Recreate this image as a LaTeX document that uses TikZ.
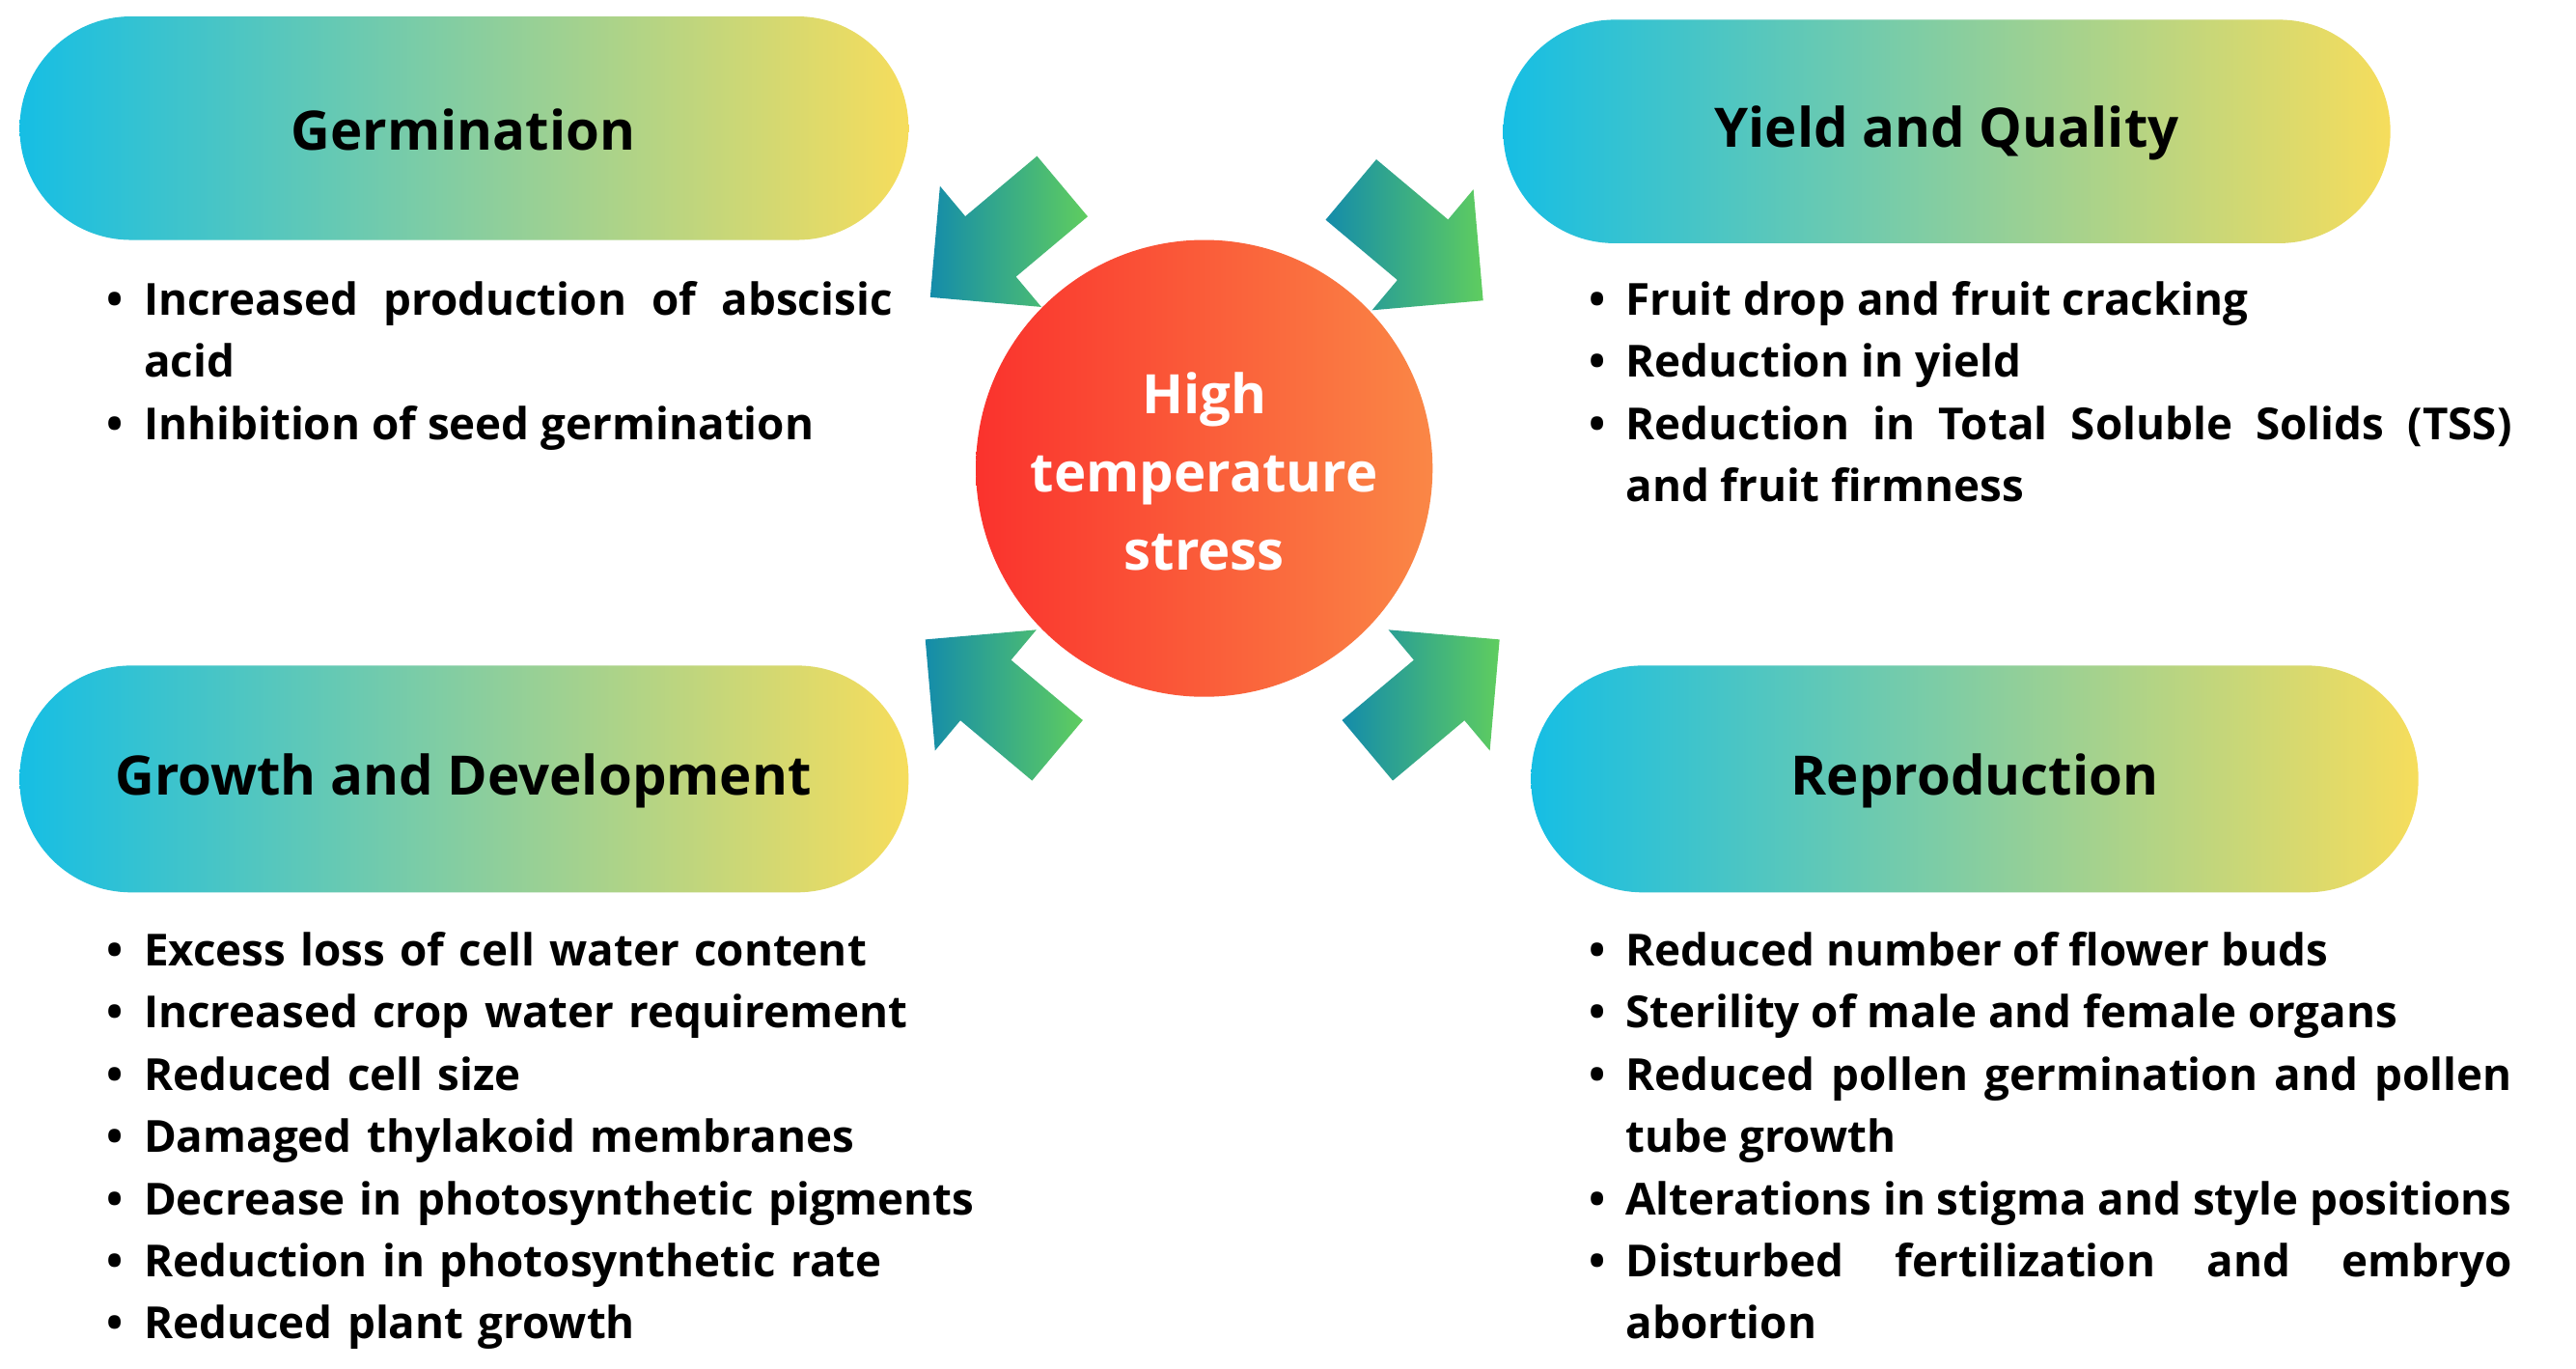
\documentclass[tikz,border=0pt]{standalone}
\usepackage{fontspec}
\setmainfont{Open Sans}
\hyphenpenalty=10000
\exhyphenpenalty=10000
\definecolor{cyanA}{RGB}{22,190,228}
\definecolor{yelA}{RGB}{246,221,92}
\definecolor{redA}{RGB}{250,50,45}
\definecolor{orA}{RGB}{250,135,70}
\definecolor{tealA}{RGB}{20,140,170}
\definecolor{grnA}{RGB}{95,205,95}
\newlength{\hg}\setlength{\hg}{0.76cm}
\newcommand{\bit}[1]{\noindent\hangindent=\hg\hangafter=1\makebox[\hg][l]{•}#1\par}
\tikzset{
 pill/.style={rounded corners=2.3cm, left color=cyanA, right color=yelA, draw=none},
 head/.style={font=\fontsize{32}{40}\selectfont\bfseries, text=black},
 body/.style={anchor=north west, inner sep=0pt, align=justify, font=\fontsize{26}{36.6}\selectfont\bfseries},
 barrow/.style={left color=tealA, right color=grnA, draw=none}
}
\newcommand{\blockarrow}[3]{%
\begin{scope}[shift={(#1,#2)}, rotate=#3]
\shade[barrow] (-57,-24) -- (0,-24) -- (0,-48) -- (48,0) -- (0,48) -- (0,24) -- (-57,24) -- cycle;
\end{scope}}
\begin{document}
\begin{tikzpicture}[x=0.034cm,y=-0.034cm]
\useasboundingbox (0,0) rectangle (1568,832.5);
\fill[white] (0,0) rectangle (1568,832.5);
% pills
\shade[pill] (12,10) rectangle (553,146);
\shade[pill] (915,12) rectangle (1455,148);
\shade[pill] (12,405) rectangle (553,543);
\shade[pill] (932,405) rectangle (1472,543);
\node[head] (g) at (282,79) {Germination};
\node[head] (y) at (1185,81) {Yield and Quality};
\node[head] (gd) at (282,475) {Growth and Development};
\node[head] (r) at (1202,475) {Reproduction};
% circle
\shade[left color=redA, right color=orA] (733,285) circle (139);
\node[text=white, align=center, font=\fontsize{32}{46}\selectfont\bfseries] (c) at (733,287) {High\\temperature\\stress};
% arrows
\blockarrow{603}{150}{-140}
\blockarrow{866}{152}{-40}
\blockarrow{600}{420}{140}
\blockarrow{876}{420}{40}
% texts
\node[body, text width=16.25cm] (tg) at (65,171) {%
\bit{Increased production of abscisic acid}
\bit{Inhibition of seed germination}};
\node[body, text width=19.1cm] (ty) at (967,171) {%
\bit{Fruit drop and fruit cracking}
\bit{Reduction in yield}
\bit{Reduction in Total Soluble Solids (TSS) and fruit firmness}};
\node[body, text width=19.1cm, align=left] (tgd) at (65,567) {%
\bit{Excess loss of cell water content}
\bit{Increased crop water requirement}
\bit{Reduced cell size}
\bit{Damaged thylakoid membranes}
\bit{Decrease in photosynthetic pigments}
\bit{Reduction in photosynthetic rate}
\bit{Reduced plant growth}};
\node[body, text width=19.1cm] (tr) at (967,567) {%
\bit{Reduced number of flower buds}
\bit{Sterility of male and female organs}
\bit{Reduced pollen germination and pollen tube growth}
\bit{Alterations in stigma and style positions}
\bit{Disturbed fertilization and embryo abortion}};
\end{tikzpicture}
\end{document}
